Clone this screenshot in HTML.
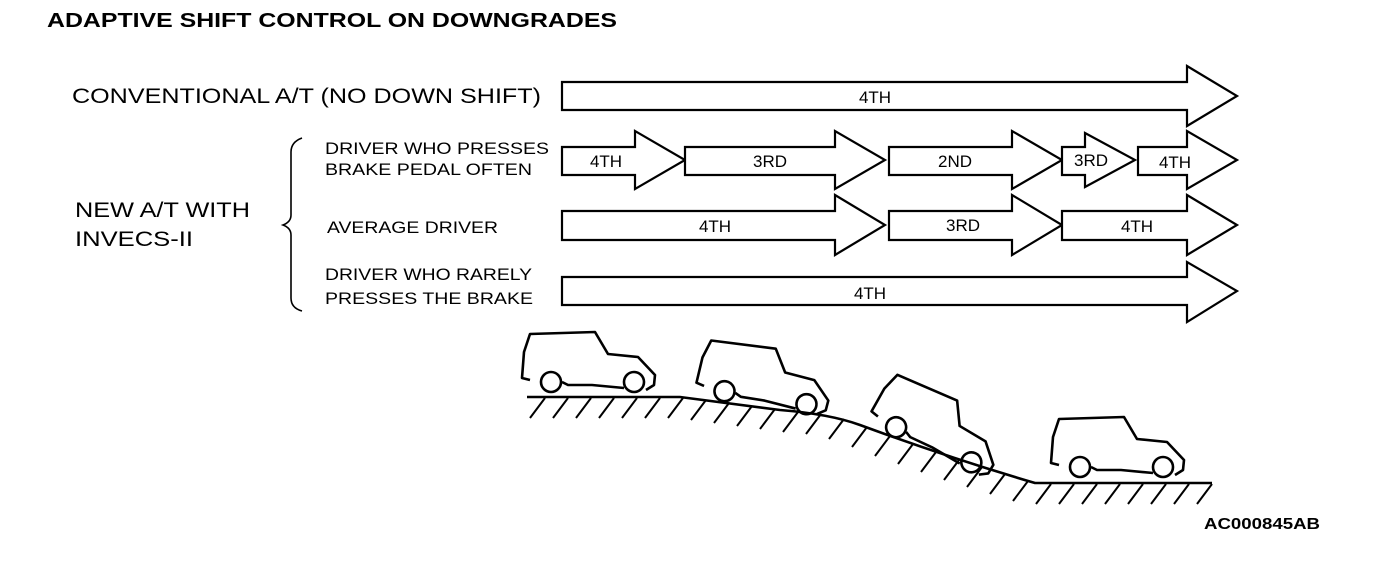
<!DOCTYPE html>
<html><head><style>body{margin:0;background:#fff}svg{display:block}text{font-family:"Liberation Sans",Arial,sans-serif;fill:#000}</style></head>
<body>
<svg width="1376" height="562" viewBox="0 0 1376 562" xmlns="http://www.w3.org/2000/svg">
<text x="47" y="27" font-size="20" font-weight="bold" textLength="570" lengthAdjust="spacingAndGlyphs">ADAPTIVE SHIFT CONTROL ON DOWNGRADES</text>
<text x="72" y="103" font-size="21" textLength="469" lengthAdjust="spacingAndGlyphs">CONVENTIONAL A/T (NO DOWN SHIFT)</text>
<text x="75" y="217" font-size="21" textLength="175" lengthAdjust="spacingAndGlyphs">NEW A/T WITH</text>
<text x="75" y="246" font-size="21" textLength="118" lengthAdjust="spacingAndGlyphs">INVECS-II</text>
<text x="325" y="154" font-size="17" textLength="224" lengthAdjust="spacingAndGlyphs">DRIVER WHO PRESSES</text>
<text x="325" y="175" font-size="17" textLength="207" lengthAdjust="spacingAndGlyphs">BRAKE PEDAL OFTEN</text>
<text x="327" y="233" font-size="17" textLength="171" lengthAdjust="spacingAndGlyphs">AVERAGE DRIVER</text>
<text x="325" y="280" font-size="17" textLength="207" lengthAdjust="spacingAndGlyphs">DRIVER WHO RARELY</text>
<text x="325" y="304" font-size="17" textLength="208" lengthAdjust="spacingAndGlyphs">PRESSES THE BRAKE</text>
<path d="M302,138 Q291,142 291,152 L291,215 Q291,222 283,225 Q291,228 291,235 L291,298 Q291,308 302,311" fill="none" stroke="#000" stroke-width="1.6"/>
<g fill="#fff" stroke="#000" stroke-width="2.2" stroke-linejoin="miter">
<polygon points="562,82 1187,82 1187,66 1237,96 1187,126 1187,110 562,110"/>
<polygon points="562,147 635,147 635,131 685,160 635,189 635,175 562,175"/>
<polygon points="685,147 835,147 835,131 885,160 835,189 835,175 685,175"/>
<polygon points="889,147 1012,147 1012,131 1062,160 1012,189 1012,175 889,175"/>
<polygon points="1062,147 1085,147 1085,133 1135,160 1085,187 1085,175 1062,175"/>
<polygon points="1138,147 1187,147 1187,131 1237,160 1187,189 1187,175 1138,175"/>
<polygon points="562,211 835,211 835,195 885,225 835,255 835,240 562,240"/>
<polygon points="889,211 1012,211 1012,195 1062,225 1012,255 1012,240 889,240"/>
<polygon points="1062,211 1187,211 1187,195 1237,225 1187,255 1187,240 1062,240"/>
<polygon points="562,277 1187,277 1187,262 1237,291 1187,322 1187,305 562,305"/>
</g>
<g font-size="17" text-anchor="middle">
<text x="875" y="103">4TH</text>
<text x="606" y="167">4TH</text>
<text x="770" y="167">3RD</text>
<text x="955" y="167">2ND</text>
<text x="1091" y="166">3RD</text>
<text x="1175" y="168">4TH</text>
<text x="715" y="232">4TH</text>
<text x="963" y="231">3RD</text>
<text x="1137" y="232">4TH</text>
<text x="870" y="299">4TH</text>
</g>
<text x="1320" y="529" font-size="16" font-weight="bold" text-anchor="end" textLength="116" lengthAdjust="spacingAndGlyphs">AC000845AB</text>
<defs>
<g id="car" fill="none" stroke="#000" stroke-width="2.6" stroke-linejoin="round">
<path d="M10,50 L2,48 L4,22 L10,4 L75,2 L88,24 L118,27 L135,45 L134,55 L126,60"/>
<path d="M104,58 L72,55 L48,55 L42,52"/>
<circle cx="31" cy="52" r="10" fill="#fff"/>
<circle cx="114" cy="52" r="10" fill="#fff"/>
</g>
</defs>
<use href="#car" transform="translate(520,330)"/>
<use href="#car" transform="translate(702,335) rotate(9)"/>
<use href="#car" transform="translate(890,367) rotate(25)"/>
<use href="#car" transform="translate(1049,415)"/>
<path d="M527,397 L680,397 Q720,402 780,410 Q830,414 860,425 Q950,458 1035,483 L1212,483" fill="none" stroke="#000" stroke-width="2.6"/>
<g stroke="#000" stroke-width="2">
<path d="M545,398 L530,418 M568,398 L553,418 M591,398 L576,418 M614,398 L599,418 M637,398 L622,418 M660,398 L645,418 M683,398 L668,418 M706,400 L691,420 M729,403 L714,423 M752,406 L737,426 M775,409 L760,429 M798,412 L783,432 M821,414 L806,434 M844,419 L829,439 M867,427 L852,447 M890,436 L875,456 M913,444 L898,464 M936,452 L921,472 M959,460 L944,480 M982,467 L967,487 M1005,474 L990,494 M1028,481 L1013,501 M1051,484 L1036,504 M1074,484 L1059,504 M1097,484 L1082,504 M1120,484 L1105,504 M1143,484 L1128,504 M1166,484 L1151,504 M1189,484 L1174,504 M1212,484 L1197,504"/>
</g>
</svg>
</body></html>
